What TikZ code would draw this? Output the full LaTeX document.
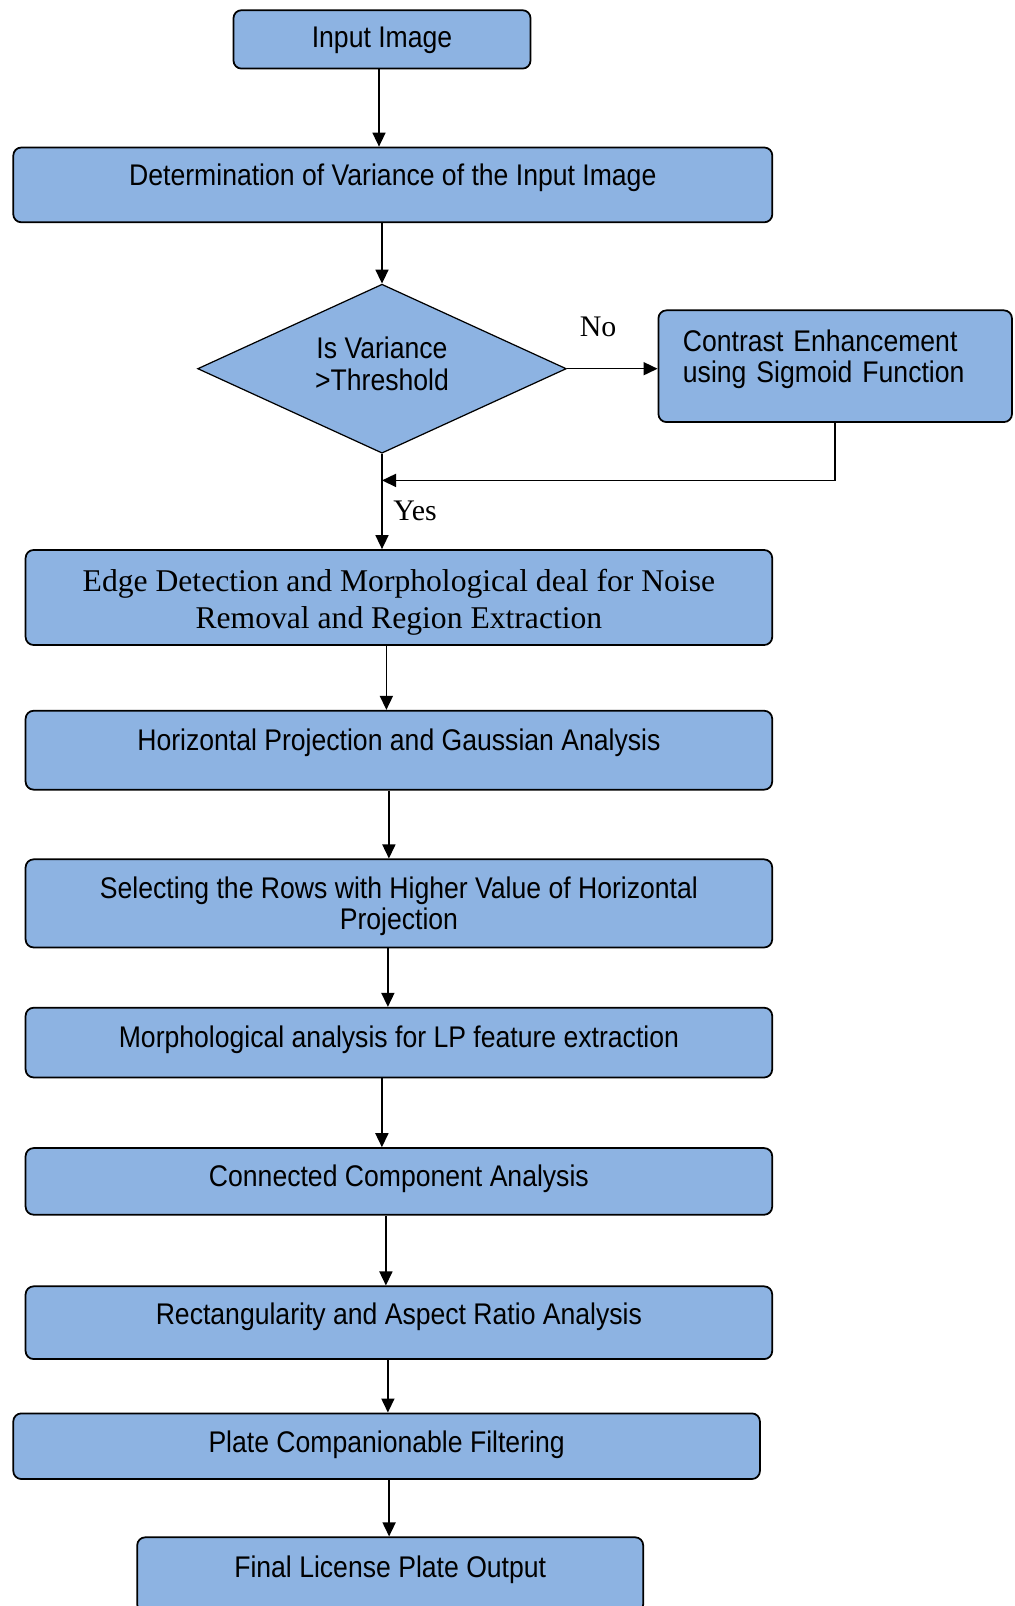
\documentclass[tikz,border=0pt]{standalone}
\usepackage{fontspec}
\setmainfont{Liberation Serif}
\newfontfamily\boxfont[FakeStretch=0.89]{Liberation Sans}
\usetikzlibrary{arrows.meta,shapes.geometric}

\definecolor{boxblue}{RGB}{141,179,226}

\tikzset{
  stage/.style={draw, line width=1pt, fill=boxblue, rounded corners=0.16cm,
    font=\boxfont\fontsize{17}{18}\selectfont, align=center,
    minimum width=14.932cm, inner sep=0pt},
  lift/.style={text height=0.434cm, text depth=#1},
  decision/.style={draw, line width=0.7pt, fill=boxblue, diamond, aspect=2.2,
    font=\boxfont\fontsize{17}{18}\selectfont, align=center, inner sep=0pt},
  answer/.style={font=\fontsize{17}{20}\selectfont},
  arr/.style={line width=0.9pt, -{Triangle[length=0.28cm,width=0.26cm]}}
}

\begin{document}
\begin{tikzpicture}
        \useasboundingbox (0,0) rectangle (20.28,-32.12);

        % boxes
        \node[stage, lift=0.1cm, minimum width=5.94cm, minimum height=1.168cm] (input) at (7.64,-0.788) {Input Image};
        \node[stage, lift=0.4cm, minimum width=15.18cm, minimum height=1.496cm] (determ) at (7.856,-3.698) {Determination of Variance of the Input Image};
        \node[decision, text height=1.069cm, text depth=0.204cm, minimum width=7.374cm, minimum height=3.38cm] (dec) at (7.64,-7.374) {Is Variance\\>Threshold};
        \node[stage, align=left, minimum width=7.066cm, minimum height=2.234cm, text width=6.09cm, inner xsep=0.49cm,
              lift=1.03cm] (ctr) at (16.704,-7.324) {Contrast Enhancement\\using Sigmoid Function};
        \node[stage, font=\fontsize{18}{21}\selectfont, text height=1.3cm, text depth=0.068cm, minimum height=1.9cm] (edge) at (7.978,-11.95) {Edge Detection and Morphological deal for Noise\\Removal and Region Extraction};
        \node[stage, lift=0.43cm, minimum height=1.578cm] (hproj) at (7.978,-15.004) {Horizontal Projection and Gaussian Analysis};
        \node[stage, text height=1.1cm, text depth=0.038cm, minimum height=1.762cm] (select) at (7.978,-18.068) {Selecting the Rows with Higher Value of Horizontal\\Projection};
        \node[stage, lift=0.24cm, minimum height=1.394cm] (morph) at (7.978,-20.852) {Morphological analysis for LP feature extraction};
        \node[stage, lift=0.22cm, minimum height=1.332cm] (conn) at (7.978,-23.628) {Connected Component Analysis};
        \node[stage, lift=0.35cm, minimum height=1.454cm] (rect) at (7.978,-26.454) {Rectangularity and Aspect Ratio Analysis};
        \node[stage, lift=0.2cm, minimum height=1.312cm] (plate) at (7.732,-28.924) {Plate Companionable Filtering};
        \node[stage, lift=0.31cm, minimum width=10.12cm, minimum height=1.5cm] (final) at (7.804,-31.496) {Final License Plate Output};

        % answers
        \node[answer] (no) at (11.96,-6.534) {No};
        \node[answer] (yes) at (8.3,-10.22) {Yes};
        \coordinate (join) at (7.64,-9.608);

        % arrows
        \draw[arr] ([xshift=-0.06cm]input.south) -- ([xshift=-0.06cm]input.south |- determ.north);
        \draw[arr] (dec.north |- determ.south) -- (dec.north);
        \draw[arr] (dec.east) -- (dec.east -| ctr.west);
        \draw[arr] (ctr.south) |- (join);
        \draw[arr] (dec.south) -- (dec.south |- edge.north);
        \draw[arr] ([xshift=-0.25cm]edge.south) -- ([xshift=-0.25cm]edge.south |- hproj.north);
        \draw[arr] ([xshift=-0.2cm]hproj.south) -- ([xshift=-0.2cm]hproj.south |- select.north);
        \draw[arr] ([xshift=-0.22cm]select.south) -- ([xshift=-0.22cm]select.south |- morph.north);
        \draw[arr] ([xshift=-0.34cm]morph.south) -- ([xshift=-0.34cm]morph.south |- conn.north);
        \draw[arr] ([xshift=-0.26cm]conn.south) -- ([xshift=-0.26cm]conn.south |- rect.north);
        \draw[arr] ([xshift=-0.22cm]rect.south) -- ([xshift=-0.22cm]rect.south |- plate.north);
        \draw[arr] ([xshift=0.05cm]plate.south) -- ([xshift=0.05cm]plate.south |- final.north);
    \end{tikzpicture}
\end{document}
